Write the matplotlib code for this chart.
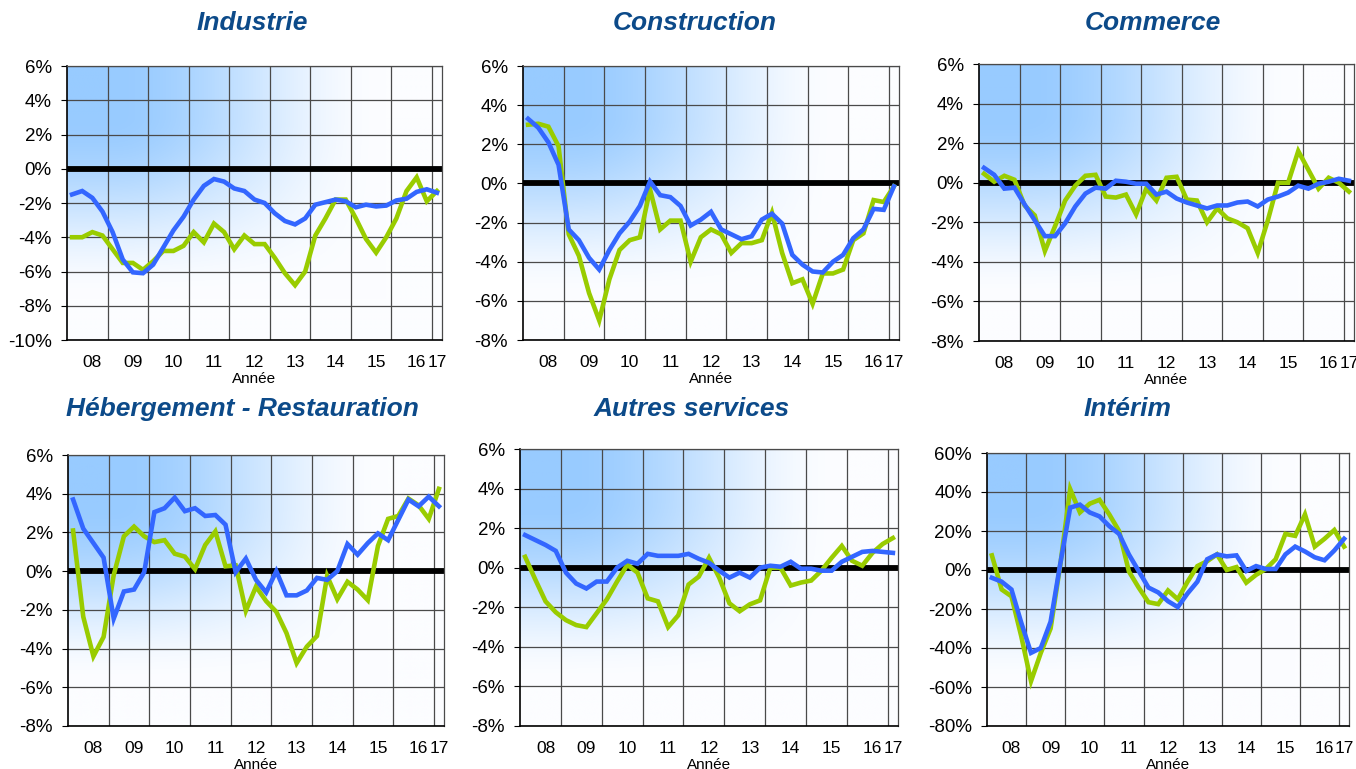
import matplotlib
matplotlib.use("Agg")
import matplotlib.pyplot as plt
import numpy as np
from matplotlib.ticker import FixedLocator, FuncFormatter

plt.rcParams["font.family"] = ["Liberation Sans", "DejaVu Sans"]

# quarters 2008T1 .. 2017T1
trimestres = [f"{a}T{q}" for a in range(2008, 2018) for q in range(1, 5)][:37]
annees = ["08", "09", "10", "11", "12", "13", "14", "15", "16", "17"]

industrie_vert = [-4.0, -4.0, -3.7, -3.9, -4.7, -5.5, -5.5, -5.9, -5.4, -4.8, -4.8, -4.5, -3.7,
                  -4.3, -3.2, -3.7, -4.7, -3.9, -4.4, -4.4, -5.2, -6.1, -6.8, -6.0, -3.9, -2.9,
                  -1.8, -1.8, -2.9, -4.1, -4.9, -4.0, -2.9, -1.3, -0.5, -1.9, -1.3]
industrie_bleu = [-1.5, -1.3, -1.7, -2.5, -3.7, -5.3, -6.05, -6.1, -5.6, -4.6, -3.6, -2.8, -1.8,
                  -1.0, -0.6, -0.75, -1.15, -1.3, -1.8, -2.0, -2.6, -3.05, -3.25, -2.9, -2.1, -1.95,
                  -1.8, -1.9, -2.25, -2.1, -2.2, -2.15, -1.85, -1.75, -1.35, -1.2, -1.4]

construction_vert = [3.0, 3.05, 2.9, 1.9, -2.6, -3.7, -5.6, -7.0, -4.9, -3.4, -2.9, -2.75, -0.3,
                     -2.35, -1.9, -1.9, -4.0, -2.75, -2.35, -2.6, -3.55, -3.05, -3.05, -2.9, -1.5,
                     -3.55, -5.1, -4.9, -6.15, -4.6, -4.6, -4.4, -2.9, -2.55, -0.85, -0.95, -0.15]
construction_bleu = [3.3, 2.85, 2.1, 0.95, -2.35, -2.9, -3.8, -4.4, -3.4, -2.55, -1.95, -1.15, 0.1,
                     -0.6, -0.7, -1.15, -2.15, -1.85, -1.45, -2.35, -2.6, -2.85, -2.7, -1.85, -1.55,
                     -2.05, -3.65, -4.15, -4.5, -4.55, -4.0, -3.65, -2.8, -2.35, -1.3, -1.35, -0.15]

commerce_vert = [0.45, 0.05, 0.35, 0.15, -1.15, -1.65, -3.45, -2.2, -0.9, -0.15, 0.35, 0.4, -0.7,
                 -0.75, -0.6, -1.6, -0.3, -0.9, 0.25, 0.3, -0.85, -0.9, -2.0, -1.3, -1.8, -2.0,
                 -2.3, -3.55, -1.9, 0.0, 0.0, 1.6, 0.65, -0.3, 0.25, 0.0, -0.45]
commerce_bleu = [0.75, 0.4, -0.3, -0.25, -1.1, -1.9, -2.7, -2.7, -2.05, -1.2, -0.55, -0.25, -0.3,
                 0.1, 0.05, -0.05, -0.05, -0.6, -0.45, -0.8, -1.0, -1.15, -1.3, -1.15, -1.15, -1.0,
                 -0.95, -1.2, -0.85, -0.7, -0.5, -0.15, -0.3, -0.05, 0.05, 0.2, 0.1]

hebergement_vert = [2.1, -2.35, -4.4, -3.4, -0.2, 1.8, 2.3, 1.8, 1.5, 1.6, 0.9, 0.75, 0.1, 1.35,
                    2.05, 0.25, 0.3, -2.05, -0.8, -1.55, -2.1, -3.2, -4.75, -3.9, -3.35, -0.25,
                    -1.45, -0.55, -0.95, -1.5, 1.3, 2.7, 2.85, 3.75, 3.4, 2.7, 4.25]
hebergement_bleu = [3.7, 2.2, 1.45, 0.7, -2.45, -1.05, -0.95, -0.05, 3.05, 3.25, 3.8, 3.1, 3.25,
                    2.85, 2.9, 2.4, -0.05, 0.65, -0.45, -1.1, 0.0, -1.25, -1.25, -1.0, -0.35, -0.45,
                    0.0, 1.4, 0.85, 1.45, 1.95, 1.6, 2.65, 3.7, 3.35, 3.85, 3.35]

autres_vert = [0.55, -0.6, -1.7, -2.25, -2.65, -2.9, -3.0, -2.3, -1.6, -0.7, 0.15, -0.25, -1.55,
               -1.7, -3.0, -2.4, -0.85, -0.45, 0.5, -0.5, -1.8, -2.2, -1.85, -1.65, 0.0, 0.0,
               -0.9, -0.75, -0.65, -0.15, 0.5, 1.1, 0.35, 0.1, 0.75, 1.2, 1.5]
autres_bleu = [1.65, 1.4, 1.15, 0.85, -0.25, -0.8, -1.05, -0.7, -0.7, 0.0, 0.35, 0.2, 0.7, 0.6,
               0.6, 0.6, 0.7, 0.45, 0.25, -0.15, -0.5, -0.25, -0.5, 0.0, 0.1, 0.05, 0.3, -0.05,
               -0.05, -0.15, -0.15, 0.3, 0.55, 0.8, 0.85, 0.8, 0.75]

interim_vert = [7.5, -10, -13.5, -34, -57, -42.5, -30, 3, 41.5, 29.5, 34, 36, 28.5, 20, -0.7, -9,
                -16.5, -17.5, -10.5, -15, -6, 2, 4.5, 8, 0, 1.5, -6.5, -2.5, 0.5, 5.5, 18.5, 17.5,
                28.5, 12, 16, 20.5, 12]
interim_bleu = [-4, -6, -10, -27, -42.5, -40, -26.5, 3.5, 32, 33.5, 29.5, 27.5, 22.5, 18.5, 8, -0.5,
                -9, -11.5, -16, -19, -12, -6, 5.5, 8, 7, 7.5, -0.5, 2, 0.5, 0.5, 8, 12, 9.5, 6.5,
                5, 10, 16]

VERT = "#99CC00"
BLEU = "#3366FF"
TITRE = "#0C4A89"

W, H = 1356, 769

# (title, green, blue, ymin, ymax, ystep, axes box px: left, right, top, bottom, title xy px)
panneaux = [
    ("Industrie", industrie_vert, industrie_bleu, -10, 6, 2, (67, 442, 66, 340), (252, 23)),
    ("Construction", construction_vert, construction_bleu, -8, 6, 2, (523, 899, 66, 340), (695, 23)),
    ("Commerce", commerce_vert, commerce_bleu, -8, 6, 2, (979, 1354, 64, 341), (1153, 23)),
    ("Hébergement - Restauration", hebergement_vert, hebergement_bleu, -8, 6, 2,
     (68, 444, 455, 726), (242, 409)),
    ("Autres services", autres_vert, autres_bleu, -8, 6, 2, (520, 898, 449, 726), (692, 409)),
    ("Intérim", interim_vert, interim_bleu, -80, 60, 20, (987, 1349, 453, 726), (1128, 409)),
]


def smoothstep(a, b, t):
    s = np.clip((t - a) / (b - a), 0, 1)
    return s * s * (3 - 2 * s)


def fond_degrade():
    u = np.linspace(0, 1, 300)
    v = np.linspace(0, 1, 300)
    uu, vv = np.meshgrid(u, v)
    inten = (1 - smoothstep(0.12, 0.85, uu)) * (1 - smoothstep(0.18, 0.85, vv))
    haut = np.array([152, 203, 255]) / 255.0
    bas = np.array([252, 253, 255]) / 255.0
    return bas + (haut - bas) * inten[..., None]


x = np.array([int(t[:4]) + (int(t[-1]) - 0.5) / 4 for t in trimestres])
pos_labels = [2008.625 + k for k in range(9)] + [2017.125]

fig = plt.figure(figsize=(W / 100, H / 100), dpi=100)
img = fond_degrade()

for titre, vert, bleu, ymin, ymax, ystep, (l, r, t, b), (tx, ty) in panneaux:
    ax = fig.add_axes([l / W, 1 - b / H, (r - l) / W, (b - t) / H])
    ax.imshow(img, extent=[0, 1, 0, 1], transform=ax.transAxes, aspect="auto",
              origin="upper", zorder=0, interpolation="bilinear")
    ax.set_xlim(2008, 2017.25)
    ax.set_ylim(ymin, ymax)

    ax.yaxis.set_major_locator(FixedLocator(np.arange(ymin, ymax + ystep / 2, ystep)))
    ax.yaxis.set_major_formatter(FuncFormatter(lambda v, p: f"{v:.0f}%"))
    ax.xaxis.set_major_locator(FixedLocator(pos_labels))
    ax.set_xticklabels(annees)
    ax.xaxis.set_minor_locator(FixedLocator(np.arange(2009, 2018)))

    ax.grid(True, axis="y", which="major", color="#4a4a4a", lw=0.9, zorder=1)
    ax.grid(True, axis="x", which="minor", color="#4a4a4a", lw=0.9, zorder=1)
    ax.tick_params(axis="x", which="both", length=0, labelsize=12.5, pad=11)
    ax.tick_params(axis="y", length=4, width=0.8, labelsize=13.5, pad=7)

    ax.axhline(0, color="black", lw=4.2, zorder=2)
    ax.plot(x, vert, color=VERT, lw=3.3, zorder=3, solid_joinstyle="miter")
    ax.plot(x, bleu, color=BLEU, lw=3.3, zorder=4, solid_joinstyle="miter")

    for side in ["top", "right"]:
        ax.spines[side].set_color("#4a4a4a")
        ax.spines[side].set_linewidth(0.9)
    for side in ["left", "bottom"]:
        ax.spines[side].set_color("black")
        ax.spines[side].set_linewidth(1.2)

    ax.set_xlabel("Année", fontsize=11, labelpad=1)

    fig.text(tx / W, 1 - ty / H, titre, ha="center", va="center", fontsize=19,
             fontweight="bold", fontstyle="italic", color=TITRE)

fig.savefig("out.png", dpi=100)
